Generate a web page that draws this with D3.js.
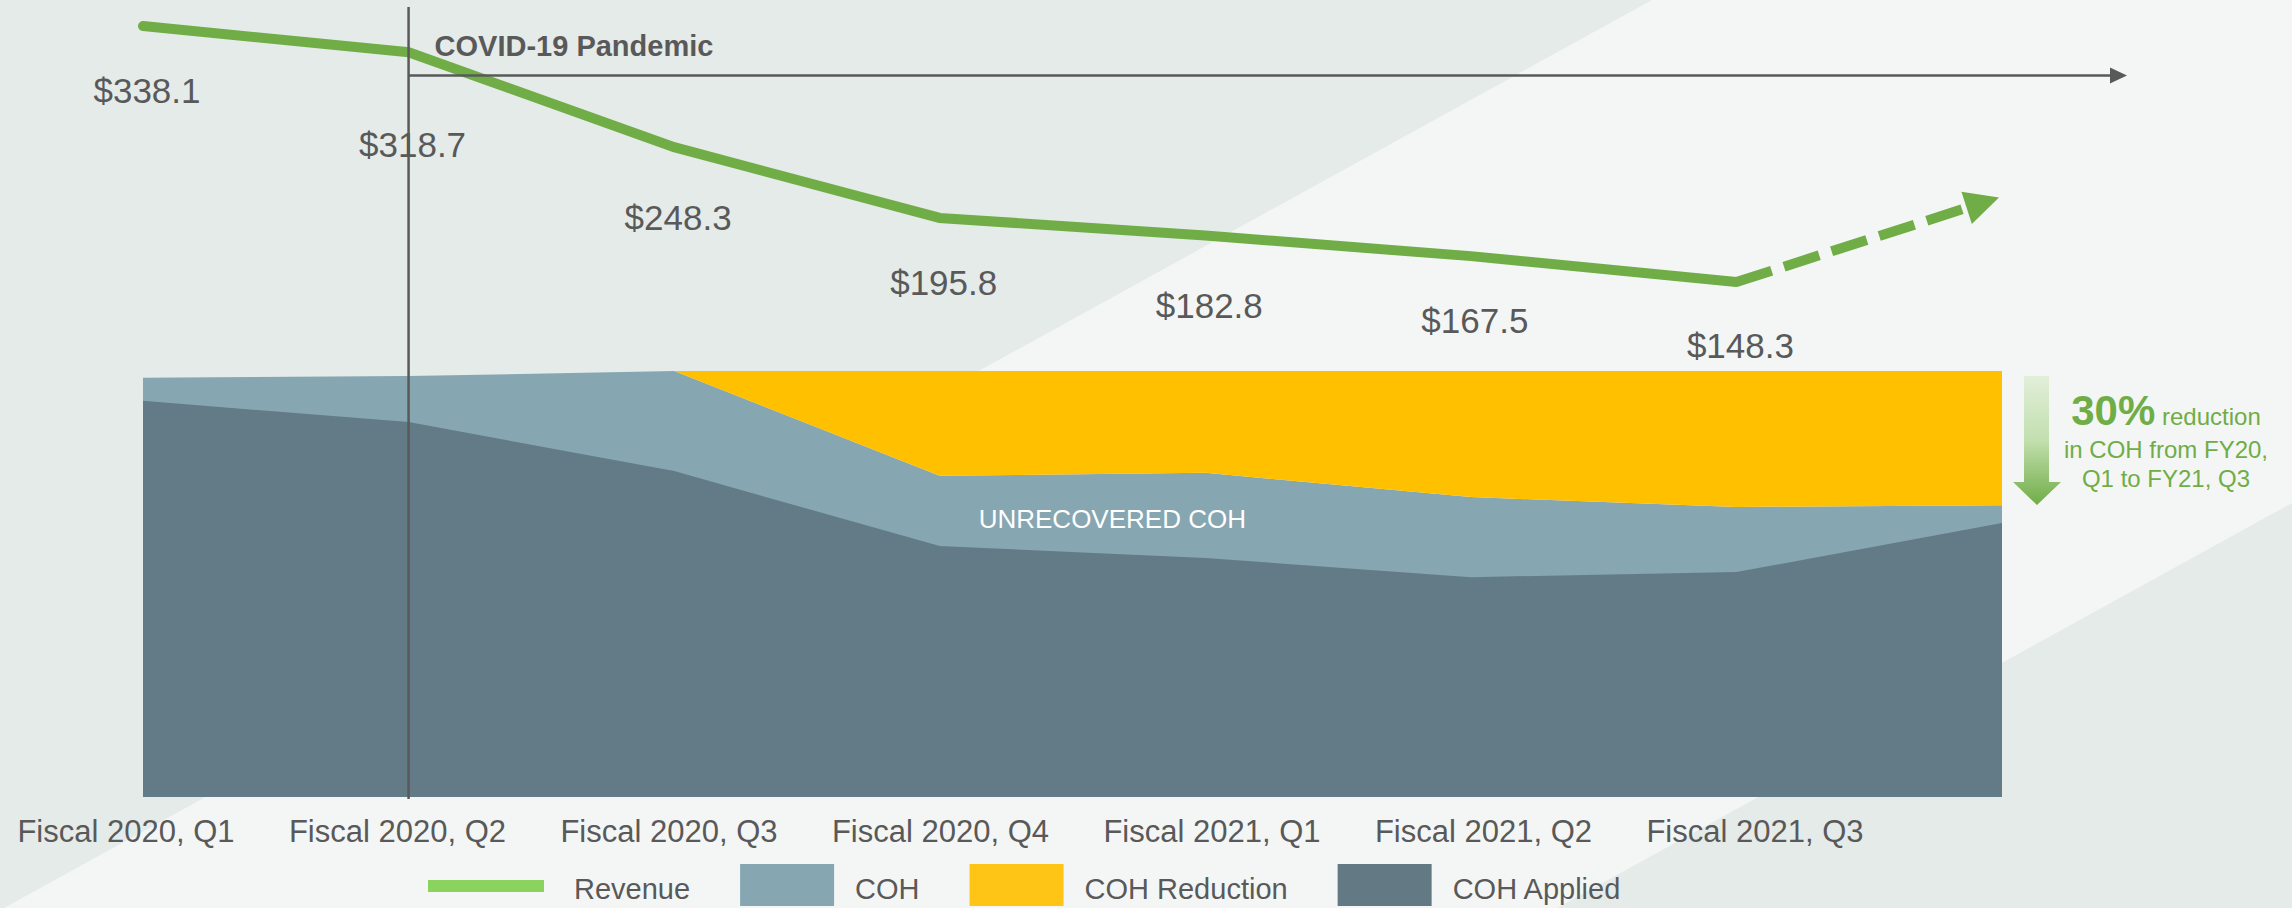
<!DOCTYPE html>
<html>
<head>
<meta charset="utf-8">
<script src="https://cdn.jsdelivr.net/npm/d3@7"></script>
<style>
  body { margin: 0; background: #f4f6f5; }
  text { font-family: "Liberation Sans", Arial, sans-serif; }
</style>
</head>
<body>
<div id="my_dataviz"></div>
<script>
// Chart values
var quarters = ["Fiscal 2020, Q1", "Fiscal 2020, Q2", "Fiscal 2020, Q3", "Fiscal 2020, Q4",
                "Fiscal 2021, Q1", "Fiscal 2021, Q2", "Fiscal 2021, Q3"];
var revenue = [338.1, 318.7, 248.3, 195.8, 182.8, 167.5, 148.3];
var revenueOutlook = 211;   // where the dashed outlook arrow points

// COH areas (index scale, FY20 Q3 = 100), one extra point past the last quarter
var coh = [98.4, 98.8, 100, 75.4, 76.1, 70.4, 68.1, 68.5];
var cohApplied = [93.0, 88.0, 76.5, 58.9, 56.1, 51.6, 52.8, 64.3];
var cohReduction = [0, 0, 0, 24.6, 23.9, 29.6, 31.9, 31.5];

var legendLabels = ["Revenue", "COH", "COH Reduction", "COH Applied"];
var pandemicLabel = "COVID-19 Pandemic";
var areaLabel = "UNRECOVERED COH";
var noteLines = ["30%", "reduction", "in COH from FY20,", "Q1 to FY21, Q3"];

// Set the dimensions of the chart
var width = 2292;
var height = 908;
var grey = "#595959";
var green = "#70ad47";

var svg = d3.select("#my_dataviz")
  .append("svg")
  .attr("width", width)
  .attr("height", height);

// Background panels
svg.append("rect").attr("width", width).attr("height", height).attr("fill", "#f4f6f5");
svg.append("polygon").attr("points", "0,0 1652,0 4,908 0,908").attr("fill", "#e5ebe9");
svg.append("polygon").attr("points", "2292,503 2292,908 1557,908").attr("fill", "#e5ebe9");

// Scales
var x = d3.scaleLinear().domain([0, 7]).range([143, 2002]);
var yArea = d3.scaleLinear().domain([0, 100]).range([797, 371]);
var yRev = d3.scaleLinear().domain([0, 350]).range([482, 10]);
var xLabel = d3.scalePoint().domain(quarters).range([126, 1755]);

var idx = d3.range(coh.length);

// COH (total) area
svg.append("path")
  .datum(idx)
  .attr("fill", "#86a6b1")
  .attr("d", d3.area()
    .x(function(i) { return x(i); })
    .y0(yArea(0))
    .y1(function(i) { return yArea(coh[i]); }));

// COH applied area
svg.append("path")
  .datum(idx)
  .attr("fill", "#637b86")
  .attr("d", d3.area()
    .x(function(i) { return x(i); })
    .y0(yArea(0))
    .y1(function(i) { return yArea(cohApplied[i]); }));

// COH reduction stacked on top of COH
svg.append("path")
  .datum(idx)
  .attr("fill", "#ffc000")
  .attr("d", d3.area()
    .x(function(i) { return x(i); })
    .y0(function(i) { return yArea(coh[i]); })
    .y1(function(i) { return yArea(coh[i] + cohReduction[i]); }));

svg.append("text")
  .attr("x", x(3.65))
  .attr("y", 528)
  .attr("text-anchor", "middle")
  .attr("fill", "white")
  .style("font-size", "26px")
  .text(areaLabel);

// Revenue line
svg.append("path")
  .datum(revenue)
  .attr("fill", "none")
  .attr("stroke", green)
  .attr("stroke-width", 10)
  .attr("stroke-linecap", "round")
  .attr("d", d3.line()
    .x(function(d, i) { return x(i); })
    .y(function(d) { return yRev(d); }));

// Dashed outlook arrow from the last quarter
var last = revenue.length - 1;
var p0 = [x(last), yRev(revenue[last])];
var tip = [x(7) - 3, yRev(revenueOutlook)];
var len = Math.hypot(tip[0] - p0[0], tip[1] - p0[1]);
var ux = (tip[0] - p0[0]) / len, uy = (tip[1] - p0[1]) / len;
var headLen = 34, headHalf = 17;
var base = [tip[0] - ux * headLen, tip[1] - uy * headLen];

svg.append("line")
  .attr("x1", p0[0]).attr("y1", p0[1])
  .attr("x2", base[0]).attr("y2", base[1])
  .attr("stroke", green)
  .attr("stroke-width", 10)
  .attr("stroke-dasharray", "37,13");

svg.append("polygon")
  .attr("points", [
    tip,
    [base[0] - uy * headHalf, base[1] + ux * headHalf],
    [base[0] + uy * headHalf, base[1] - ux * headHalf]
  ].map(function(p) { return p.join(","); }).join(" "))
  .attr("fill", green);

// Revenue labels under each point (small nudges to match the slide)
var labelDy = [77, 105, 83, 77, 83, 77, 76];
svg.selectAll(".rev-label")
  .data(revenue)
  .enter()
  .append("text")
  .attr("class", "rev-label")
  .attr("x", function(d, i) { return x(i) + 4; })
  .attr("y", function(d, i) { return yRev(d) + labelDy[i]; })
  .attr("text-anchor", "middle")
  .attr("fill", grey)
  .style("font-size", "35px")
  .text(function(d) { return "$" + d.toFixed(1); });

// Pandemic marker: vertical line plus timeline arrow
var xp = x(1);
svg.append("line")
  .attr("x1", xp).attr("x2", xp)
  .attr("y1", 7).attr("y2", 799)
  .attr("stroke", grey)
  .attr("stroke-width", 2.5);

svg.append("line")
  .attr("x1", xp).attr("x2", 2112)
  .attr("y1", 75.5).attr("y2", 75.5)
  .attr("stroke", grey)
  .attr("stroke-width", 2.5);

svg.append("polygon")
  .attr("points", "2110,67.5 2127,75.5 2110,83.5")
  .attr("fill", grey);

svg.append("text")
  .attr("x", xp + 26)
  .attr("y", 56)
  .attr("fill", grey)
  .style("font-size", "29px")
  .style("font-weight", "bold")
  .text(pandemicLabel);

// Quarter labels
svg.selectAll(".q-label")
  .data(quarters)
  .enter()
  .append("text")
  .attr("class", "q-label")
  .attr("x", function(d) { return xLabel(d); })
  .attr("y", 842)
  .attr("text-anchor", "middle")
  .attr("fill", grey)
  .style("font-size", "31px")
  .text(function(d) { return d; });

// Reduction note with gradient arrow
var defs = svg.append("defs");
var grad = defs.append("linearGradient")
  .attr("id", "arrowGrad")
  .attr("gradientUnits", "userSpaceOnUse")
  .attr("x1", 0).attr("y1", 376)
  .attr("x2", 0).attr("y2", 505);
grad.append("stop").attr("offset", "0").attr("stop-color", "#e2efd9");
grad.append("stop").attr("offset", "0.5").attr("stop-color", "#c2dfae");
grad.append("stop").attr("offset", "1").attr("stop-color", "#70ad47");

svg.append("path")
  .attr("d", "M2024,376 L2049,376 L2049,482 L2061,482 L2037,505 L2013,482 L2024,482 Z")
  .attr("fill", "url(#arrowGrad)");

var note = svg.append("text")
  .attr("x", 2166)
  .attr("y", 425)
  .attr("text-anchor", "middle")
  .attr("fill", green);
note.append("tspan").style("font-size", "42px").style("font-weight", "bold").text(noteLines[0]);
note.append("tspan").style("font-size", "24px").text(" " + noteLines[1]);

svg.selectAll(".note-line")
  .data(noteLines.slice(2))
  .enter()
  .append("text")
  .attr("class", "note-line")
  .attr("x", 2166)
  .attr("y", function(d, i) { return 458 + i * 29; })
  .attr("text-anchor", "middle")
  .attr("fill", green)
  .style("font-size", "24px")
  .text(function(d) { return d; });

// Legend
var legendColors = ["#8bd35f", "#86a6b1", "#fec516", "#637a85"];
var cursor = 428;
legendLabels.forEach(function(label, i) {
  var g = svg.append("g");
  if (i === 0) {
    g.append("rect").attr("x", cursor).attr("y", 880).attr("width", 116).attr("height", 12)
      .attr("fill", legendColors[i]);
    cursor += 116 + 30;
  } else {
    g.append("rect").attr("x", cursor).attr("y", 864).attr("width", 94).attr("height", 42)
      .attr("fill", legendColors[i]);
    cursor += 94 + 21;
  }
  var t = g.append("text")
    .attr("x", cursor)
    .attr("y", 899)
    .attr("fill", grey)
    .style("font-size", "29px")
    .text(label);
  cursor += t.node().getComputedTextLength() + 50;
});
</script>
</body>
</html>
